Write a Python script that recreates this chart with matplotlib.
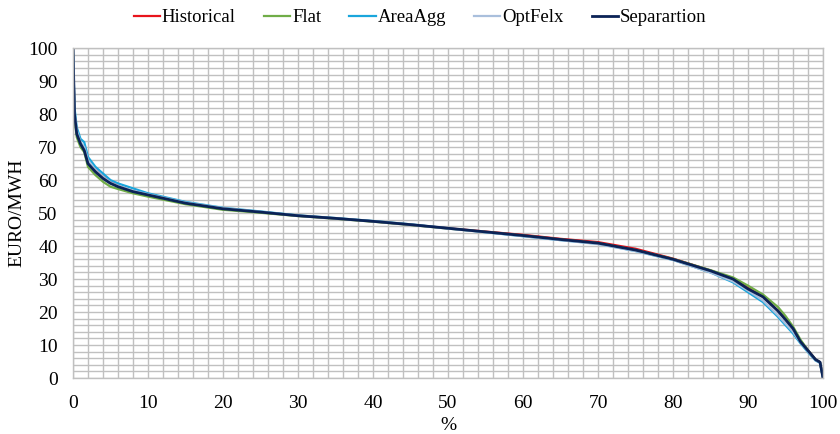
import matplotlib
matplotlib.use("Agg")
import matplotlib.pyplot as plt
import numpy as np

plt.rcParams['font.family'] = ['Liberation Serif', 'DejaVu Serif']

x = [0, 0.2, 0.5, 1, 1.5, 2, 3, 4, 5, 6, 8, 10, 15, 20, 25, 30, 35, 40, 45, 50,
     55, 60, 65, 70, 75, 80, 85, 88, 90, 92, 94, 95, 96, 97, 98, 99, 99.6, 100]

historical = [100, 80, 74.5, 71, 69.5, 65.5, 63, 61, 59.5, 58.3, 56.6, 55.5, 53, 51.3, 50.3, 49.2, 48.4, 47.5, 46.5, 45.4,
              44.4, 43.4, 42.2, 41.2, 39.2, 36.2, 32.6, 30.2, 27.3, 24.6, 20.4, 17.8, 15, 11.2, 8.4, 5.6, 4.8, 0]
flat = [100, 79, 73, 70, 68.5, 64, 61.5, 59.5, 58, 57.3, 56, 55, 52.7, 51, 50.1, 49.1, 48.3, 47.4, 46.4, 45.3,
        44.3, 43.2, 42, 40.9, 38.8, 36.1, 32.7, 30.5, 28, 25.3, 21.5, 18.8, 15.6, 11.6, 8.4, 5.6, 4.8, 0]
areaagg = [100, 82, 76, 72.5, 71.5, 67, 64, 62, 60, 59, 57.5, 56, 53.4, 51.6, 50.5, 49.3, 48.5, 47.6, 46.6, 45.4,
           44.2, 43, 41.8, 40.7, 38.5, 35.8, 32, 29, 26, 23, 18.5, 16, 13.5, 10.5, 7.8, 5.3, 4.6, 0]
optfelx = [100, 81, 75, 71.5, 70, 66, 63, 61, 59.3, 58.3, 56.8, 55.7, 53.2, 51.5, 50.4, 49.2, 48.4, 47.5, 46.5, 45.3,
           44.2, 43, 41.8, 40.6, 38.5, 35.8, 32, 29.3, 26.5, 23.5, 19, 16.5, 14, 10.8, 8, 5.4, 4.7, 0]
separation = [100, 80, 74, 71, 69, 65, 62.5, 60.5, 59, 58, 56.5, 55.5, 53, 51.3, 50.3, 49.2, 48.4, 47.5, 46.5, 45.4,
              44.3, 43.2, 42, 40.9, 38.8, 36, 32.5, 30, 27, 24.6, 20.3, 17.7, 15, 11, 8.3, 5.6, 4.8, 0]

names = ['Historical', 'Flat', 'AreaAgg', 'OptFelx', 'Separartion']
series = [historical, flat, areaagg, optfelx, separation]
colors = ['#e8141c', '#70ad47', '#1aa6dc', '#a9bfdc', '#0b2356']
widths = [1.6, 1.6, 1.6, 1.6, 2.0]

fig = plt.figure(figsize=(8.4, 4.34), dpi=100)
ax = fig.add_axes([0.0869, 0.129, 0.8929, 0.760])

for name, ys, c, w in zip(names, series, colors, widths):
    ax.plot(x, ys, color=c, lw=w, label=name, solid_joinstyle='round')

ax.set_xlim(0, 100)
ax.set_ylim(0, 100)
ax.set_xticks(np.arange(0, 101, 10))
ax.set_yticks(np.arange(0, 101, 10))
ax.set_xticks(np.arange(0, 101, 2), minor=True)
ax.set_yticks(np.arange(0, 101, 2), minor=True)
ax.grid(True, which='both', color='#c0c0c0', lw=1.0)
ax.set_axisbelow(True)
ax.tick_params(which='both', length=0, labelsize=14)
ax.tick_params(axis='x', pad=12)
ax.tick_params(axis='y', pad=11)
for s in ax.spines.values():
    s.set_color('#c0c0c0')
    s.set_linewidth(1.0)

ax.set_xlabel('%', fontsize=14, labelpad=4)
ax.set_ylabel('EURO/MWH', fontsize=14, labelpad=2)

fig.legend(loc='upper center', bbox_to_anchor=(0.5, 1.018), ncol=5, frameon=False,
           fontsize=13.5, handlelength=1.4, handletextpad=0.1, columnspacing=1.5)

fig.savefig('out.png', dpi=100)
